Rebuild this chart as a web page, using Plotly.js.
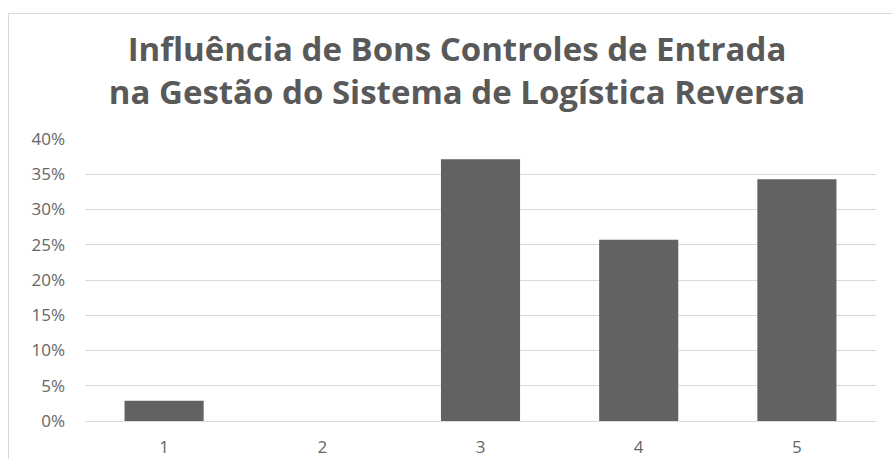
<!DOCTYPE html>
<html>
<head>
<meta charset="utf-8">
<script src="https://cdn.plot.ly/plotly-3.0.1.min.js"></script>
<style>
html,body{margin:0;padding:0;background:#fff;}
#chart{width:892px;height:459px;position:absolute;left:0;top:0;}
#frame{position:absolute;left:8px;top:13px;width:900px;height:460px;border:1px solid #d9d9d9;pointer-events:none;}
</style>
</head>
<body>
<div id="chart"></div>
<div id="frame"></div>
<script>
const categories = ["1", "2", "3", "4", "5"];
const values = [0.0286, 0, 0.3714, 0.2571, 0.3429];
const yTickValues = [0, 0.05, 0.10, 0.15, 0.20, 0.25, 0.30, 0.35, 0.40];
const yTickLabels = ["0%", "5%", "10%", "15%", "20%", "25%", "30%", "35%", "40%"];
const titleText = "Influência de Bons Controles de Entrada<br>na Gestão do Sistema de Logística Reversa";

const trace = {
  type: "bar",
  x: categories,
  y: values,
  marker: {color: "#626262", line: {color: "#7a7a7a", width: 0}},
  hoverinfo: "none"
};

const layout = {
  width: 892, height: 459,
  margin: {l: 85, r: 16, t: 139, b: 38},
  paper_bgcolor: "#fff", plot_bgcolor: "#fff",
  bargap: 0.5,
  showlegend: false,
  title: {
    text: titleText,
    font: {family: "Open Sans", size: 33, color: "#595959", weight: "bold"},
    x: 457/892, xanchor: "center",
    yref: "container", y: 1 - 61/459, yanchor: "top"
  },
  xaxis: {
    type: "category",
    showgrid: false, zeroline: false,
    showline: true, linecolor: "#d9d9d9", linewidth: 1,
    ticks: "", ticklen: 0,
    ticklabelstandoff: 11,
    tickfont: {family: "Open Sans", size: 17, color: "#666666"}
  },
  yaxis: {
    range: [0, 0.4],
    tickvals: yTickValues, ticktext: yTickLabels,
    showgrid: true, gridcolor: "#d9d9d9", gridwidth: 1,
    zeroline: false, showline: false, ticks: "",
    ticklabelstandoff: 19,
    tickfont: {family: "Open Sans", size: 17, color: "#666666"}
  }
};

Plotly.newPlot("chart", [trace], layout, {displayModeBar: false, staticPlot: true});
</script>
</body>
</html>
